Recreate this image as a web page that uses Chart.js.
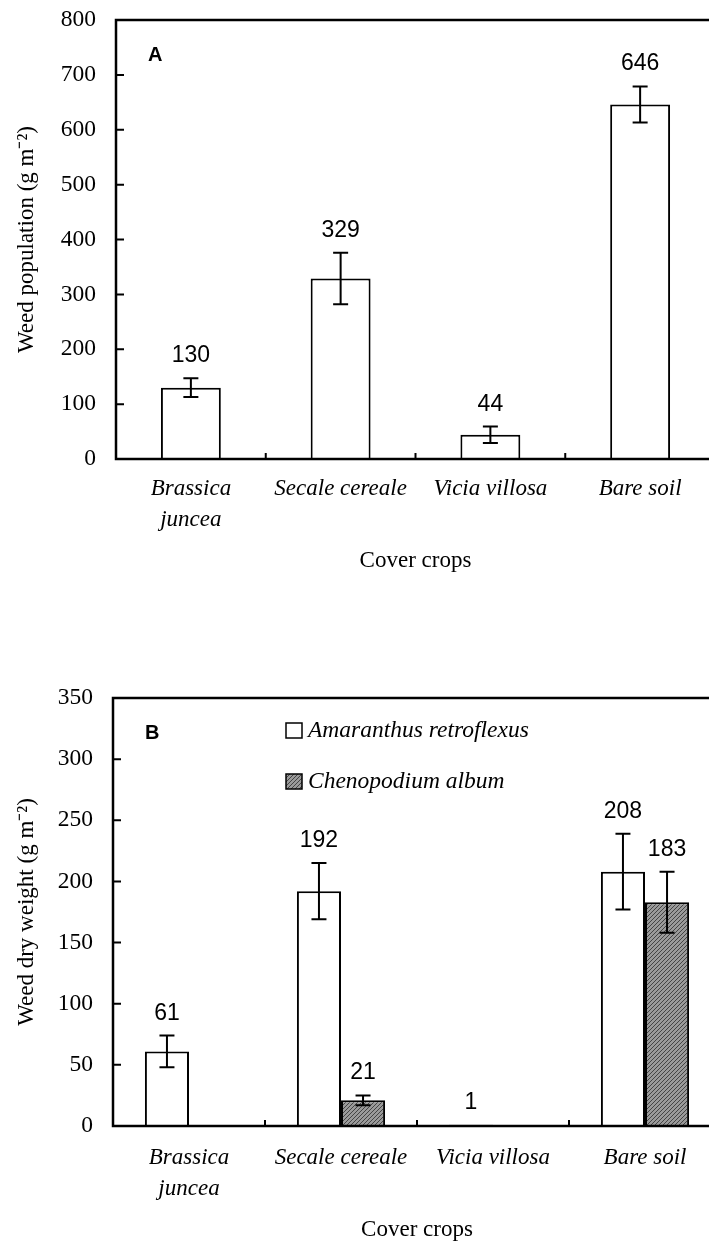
<!DOCTYPE html>
<html>
<head>
<meta charset="utf-8">
<script src="https://cdn.jsdelivr.net/npm/chart.js@4.4.0/dist/chart.umd.min.js"></script>
<style>
  html, body { margin: 0; padding: 0; background: #fff; overflow: hidden; width: 709px; height: 1244px; }
  .panel { position: absolute; left: 0; }
  #panelA { top: 0; }
  #panelB { top: 620px; }
</style>
</head>
<body>
<div class="panel" id="panelA"><canvas id="chartA" width="730" height="620"></canvas></div>
<div class="panel" id="panelB"><canvas id="chartB" width="730" height="624"></canvas></div>
<script>
// data
var crops = [['Brassica', 'juncea'], 'Secale cereale', 'Vicia villosa', 'Bare soil'];

// panel A - weed population
var popMean = [130, 329, 44, 646];
var popErr = [17, 47, 15, 33];
var popTicks = [0, 100, 200, 300, 400, 500, 600, 700, 800];

// panel B - weed dry weight
var amaranthus = [61, 192, 1, 208];
var amaranthusErr = [13, 23, 0, 31];
var chenopodium = [0, 21, 0, 183];
var chenopodiumErr = [0, 4, 0, 25];
var dryTicks = [0, 50, 100, 150, 200, 250, 300, 350];

var serif = '"Liberation Serif", "Times New Roman", serif';
var sans = '"Liberation Sans", Arial, sans-serif';

// grey hatched fill for Chenopodium
function hatch() {
    var c = document.createElement('canvas');
    c.width = 4; c.height = 4;
    var g = c.getContext('2d');
    g.fillStyle = '#9a9a9a';
    g.fillRect(0, 0, 4, 4);
    g.strokeStyle = '#444';
    g.lineWidth = 1;
    g.beginPath();
    g.moveTo(0, 4); g.lineTo(4, 0);
    g.moveTo(-1, 1); g.lineTo(1, -1);
    g.moveTo(3, 5); g.lineTo(5, 3);
    g.stroke();
    return g.createPattern(c, 'repeat');
}

// frame, inward ticks, error bars, value labels, panel letter, legend
var figurePlugin = {
    id: 'figure',
    afterDatasetsDraw: function (chart, args, opts) {
        var ctx = chart.ctx;
        var area = chart.chartArea;
        var xs = chart.scales.x, ys = chart.scales.y;
        ctx.save();
        ctx.strokeStyle = '#000';
        ctx.fillStyle = '#000';

        chart.data.datasets.forEach(function (ds, i) {
            var meta = chart.getDatasetMeta(i);
            meta.data.forEach(function (bar, j) {
                var v = ds.data[j], e = ds.errors[j];
                if (!v) return;
                var top = ys.getPixelForValue(v + e);
                var bot = ys.getPixelForValue(v - e);
                if (e > 0) {
                    ctx.lineWidth = 2;
                    ctx.beginPath();
                    ctx.moveTo(bar.x, top); ctx.lineTo(bar.x, bot);
                    ctx.moveTo(bar.x - 7.5, top); ctx.lineTo(bar.x + 7.5, top);
                    ctx.moveTo(bar.x - 7.5, bot); ctx.lineTo(bar.x + 7.5, bot);
                    ctx.stroke();
                }
                ctx.font = '23px ' + sans;
                ctx.textAlign = 'center';
                ctx.textBaseline = 'alphabetic';
                ctx.fillText(String(v), bar.x, top - 16);
            });
        });

        // box
        ctx.lineWidth = 2.5;
        ctx.strokeRect(area.left, area.top, area.right - area.left, area.bottom - area.top);

        // y ticks pointing in
        ctx.lineWidth = 2;
        ctx.beginPath();
        ys.ticks.forEach(function (t, i) {
            var y = ys.getPixelForTick(i);
            ctx.moveTo(area.left, y); ctx.lineTo(area.left + 8, y);
        });
        // category separators on x axis
        for (var k = 0; k < xs.ticks.length - 1; k++) {
            var x = (xs.getPixelForTick(k) + xs.getPixelForTick(k + 1)) / 2;
            ctx.moveTo(x, area.bottom); ctx.lineTo(x, area.bottom - 6);
        }
        ctx.stroke();

        // panel letter
        ctx.font = 'bold 20px ' + sans;
        ctx.textAlign = 'left';
        ctx.fillText(opts.letter, area.left + 32, area.top + 41);

        // legend inside the plot
        if (opts.legend) {
            ctx.font = 'italic 23.5px ' + serif;
            chart.data.datasets.forEach(function (ds, i) {
                var bx = area.left + 173, by = area.top + 25 + i * 51;
                ctx.fillStyle = ds.backgroundColor;
                ctx.fillRect(bx, by, 16, 15);
                ctx.lineWidth = 1.5;
                ctx.strokeRect(bx, by, 16, 15);
                ctx.fillStyle = '#000';
                ctx.fillText(ds.label, bx + 22, by + 14);
            });
        }
        ctx.restore();
    }
};

function scales(ticks, yTitle, yWidth, xHeight, tickPad, titlePad) {
    return {
        x: {
            type: 'category',
            offset: true,
            grid: { display: false, drawTicks: false },
            border: { display: false },
            ticks: {
                color: '#000', autoSkip: false, maxRotation: 0, padding: tickPad,
                font: { family: serif, size: 23, style: 'italic', lineHeight: 1.33 }
            },
            title: {
                display: true, text: 'Cover crops', color: '#000',
                font: { family: serif, size: 23 }, padding: { top: 0, bottom: titlePad }
            },
            afterFit: function (s) { s.height = xHeight; }
        },
        y: {
            min: ticks[0],
            max: ticks[ticks.length - 1],
            grid: { display: false, drawTicks: false },
            border: { display: false },
            ticks: {
                stepSize: ticks[1] - ticks[0], color: '#000', padding: 20,
                font: { family: serif, size: 23.5 }
            },
            title: {
                display: true, text: yTitle, color: '#000',
                font: { family: serif, size: 23 }, padding: { top: 13, bottom: 0 }
            },
            afterFit: function (s) {
                s.width = yWidth;
                // let the layout padding alone decide the plot top
                s.paddingTop = 0;
                s.paddingBottom = 0;
            }
        }
    };
}

// panel A
var ctxA = document.getElementById('chartA').getContext('2d');
var chartA = new Chart(ctxA, {
    type: 'bar',
    data: {
        labels: crops,
        datasets: [{
            label: 'Weed population',
            data: popMean,
            errors: popErr,
            backgroundColor: '#fff',
            borderColor: '#000',
            borderWidth: 2,
            categoryPercentage: 0.4,
            barPercentage: 1
        }]
    },
    options: {
        responsive: false,
        animation: false,
        layout: { padding: { left: 0, top: 20, right: 15, bottom: 0 } },
        scales: scales(popTicks, 'Weed population (g m\u207B\u00B2)', 116, 161, 14.7, 45.2),
        plugins: {
            legend: { display: false },
            tooltip: { enabled: false },
            figure: { letter: 'A', legend: false }
        }
    },
    plugins: [figurePlugin]
});

// panel B
var ctxB = document.getElementById('chartB').getContext('2d');
var chartB = new Chart(ctxB, {
    type: 'bar',
    data: {
        labels: crops,
        datasets: [{
            label: 'Amaranthus retroflexus',
            data: amaranthus,
            errors: amaranthusErr,
            backgroundColor: '#fff',
            borderColor: '#000',
            borderWidth: 2,
            categoryPercentage: 0.58,
            barPercentage: 1
        }, {
            label: 'Chenopodium album',
            data: chenopodium,
            errors: chenopodiumErr,
            backgroundColor: hatch(),
            borderColor: '#000',
            borderWidth: 2,
            categoryPercentage: 0.58,
            barPercentage: 1
        }]
    },
    options: {
        responsive: false,
        animation: false,
        layout: { padding: { left: 0, top: 78, right: 9, bottom: 0 } },
        scales: scales(dryTicks, 'Weed dry weight (g m\u207B\u00B2)', 113, 118, 16.7, 0.2),
        plugins: {
            legend: { display: false },
            tooltip: { enabled: false },
            figure: { letter: 'B', legend: true }
        }
    },
    plugins: [figurePlugin]
});
</script>
</body>
</html>
